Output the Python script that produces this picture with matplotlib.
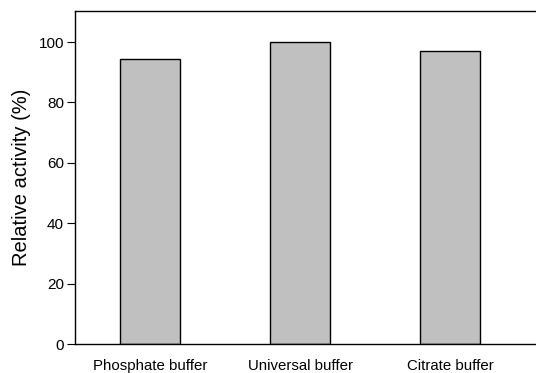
import matplotlib.pyplot as plt

plt.rcParams['font.family'] = ['Liberation Sans', 'DejaVu Sans']

buffers = ["Phosphate buffer", "Universal buffer", "Citrate buffer"]
activity = [94.5, 100.0, 97.2]
yticks = [0, 20, 40, 60, 80, 100]

fig = plt.figure(figsize=(5.36, 3.73), dpi=100)
ax = fig.add_axes([75 / 536, 29 / 373, 461 / 536, 333 / 373])

x = range(len(buffers))
ax.bar(x, activity, width=0.4, color="#c0c0c0", edgecolor="black", linewidth=1)

ax.set_xlim(-0.5, 2.573)
ax.set_ylim(0, 110.3)
ax.set_yticks(yticks)
ax.set_xticks(list(x))
ax.set_xticklabels(buffers, fontsize=10.8)
ax.tick_params(axis="x", length=0, pad=11)
ax.tick_params(axis="y", length=6, width=0.8, labelsize=11, pad=2)
ax.set_ylabel("Relative activity (%)", fontsize=14.5, labelpad=5)

for s in ax.spines.values():
    s.set_linewidth(1)
ax.spines["right"].set_visible(False)

fig.savefig("out.png", dpi=100)
